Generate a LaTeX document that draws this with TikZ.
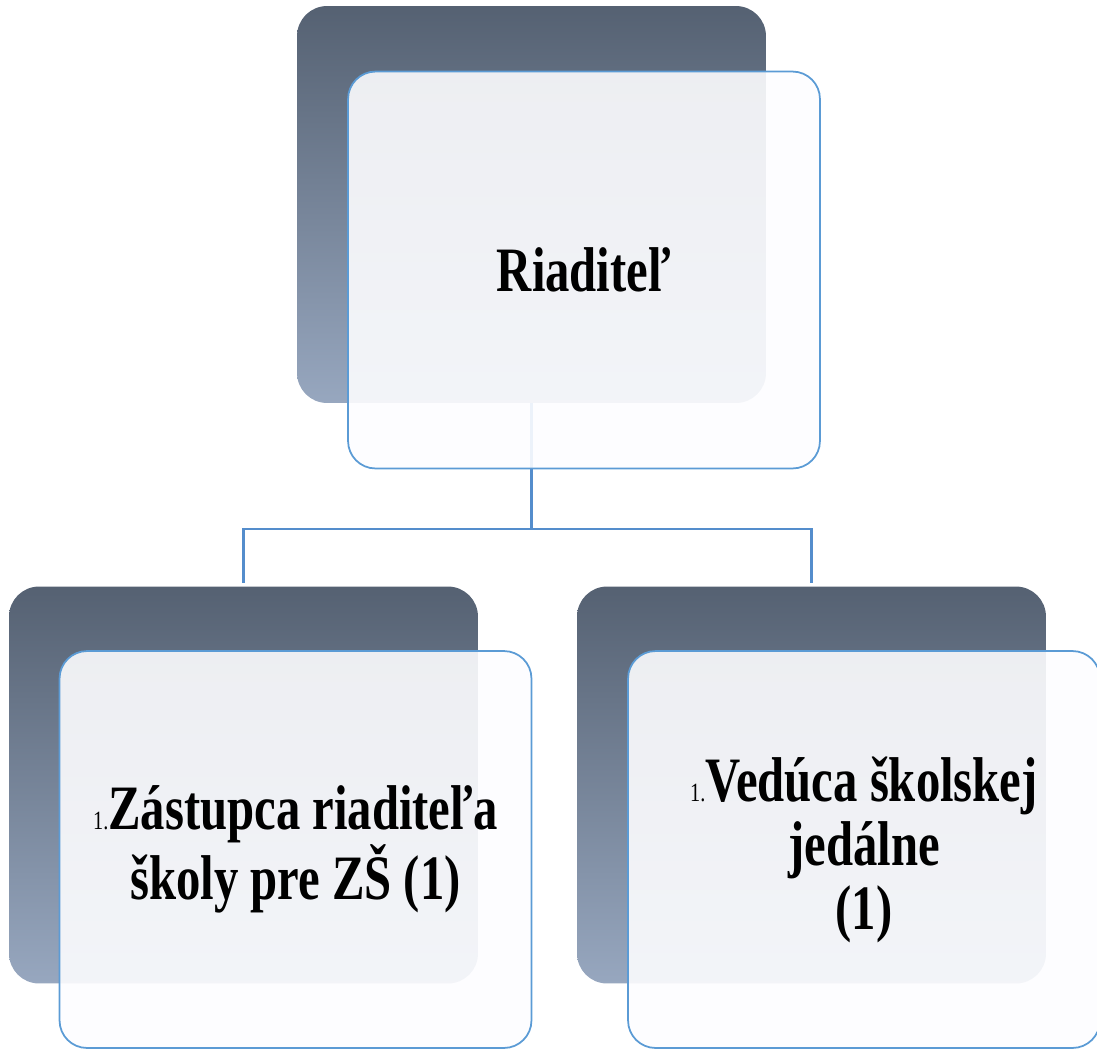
\documentclass[tikz,border=0pt]{standalone}
\usepackage{fontspec}
\newfontfamily\pismo[FakeStretch=0.77]{Liberation Serif}
\usetikzlibrary{backgrounds}

\definecolor{bridlica}{RGB}{85,97,114}
\definecolor{bridlicaSv}{RGB}{151,167,191}
\definecolor{okraj}{RGB}{91,155,213}
\definecolor{spojnica}{RGB}{84,141,204}

\tikzset{
	zadny/.style={rounded corners=0.6cm, top color=bridlica, bottom color=bridlicaSv,
		minimum width=9.38cm, minimum height=7.94cm},
	predny/.style={draw=okraj, line width=1pt, rounded corners=0.55cm,
		fill=white!98!blue!40!white, fill opacity=0.9, text opacity=1,
		minimum width=9.44cm, minimum height=7.94cm, align=center,
		font=\pismo\bfseries\fontsize{36}{36.4}\selectfont},
	spoj/.style={draw=spojnica, line width=1.4pt}
}
\newcommand{\cislo}{{\mdseries\fontsize{15}{16}\selectfont 1.}}

\begin{document}
\begin{tikzpicture}[x=0.02cm,y=-0.02cm]
		
		% Page frame
		\clip (0,0) rectangle (1097,1048);
		
		% Back boxes
		\node[zadny] (riad) at (531.5,204.5) {};
		\node[zadny] (zast) at (243.5,785) {};
		\node[zadny] (jed) at (811.5,785) {};
		
		% Connectors
		\begin{scope}[on background layer]
			\coordinate (rozdel) at (531.5,529);
			\draw[spoj] (riad.center) -- (rozdel);
			\draw[spoj] (rozdel) -| ([yshift=2pt]zast.north);
			\draw[spoj] (rozdel) -| ([yshift=2pt]jed.north);
		\end{scope}
		
		% Front boxes
		\node[predny] (riadT) at (584,270) {Riaditeľ};
		\node[predny] (zastT) at (295.5,849.5) {\cislo Zástupca riaditeľa\\školy pre ZŠ (1)};
		\node[predny] (jedT) at (864,849.5) {\cislo Vedúca školskej\\jedálne\\(1)};
		
	\end{tikzpicture}
\end{document}
